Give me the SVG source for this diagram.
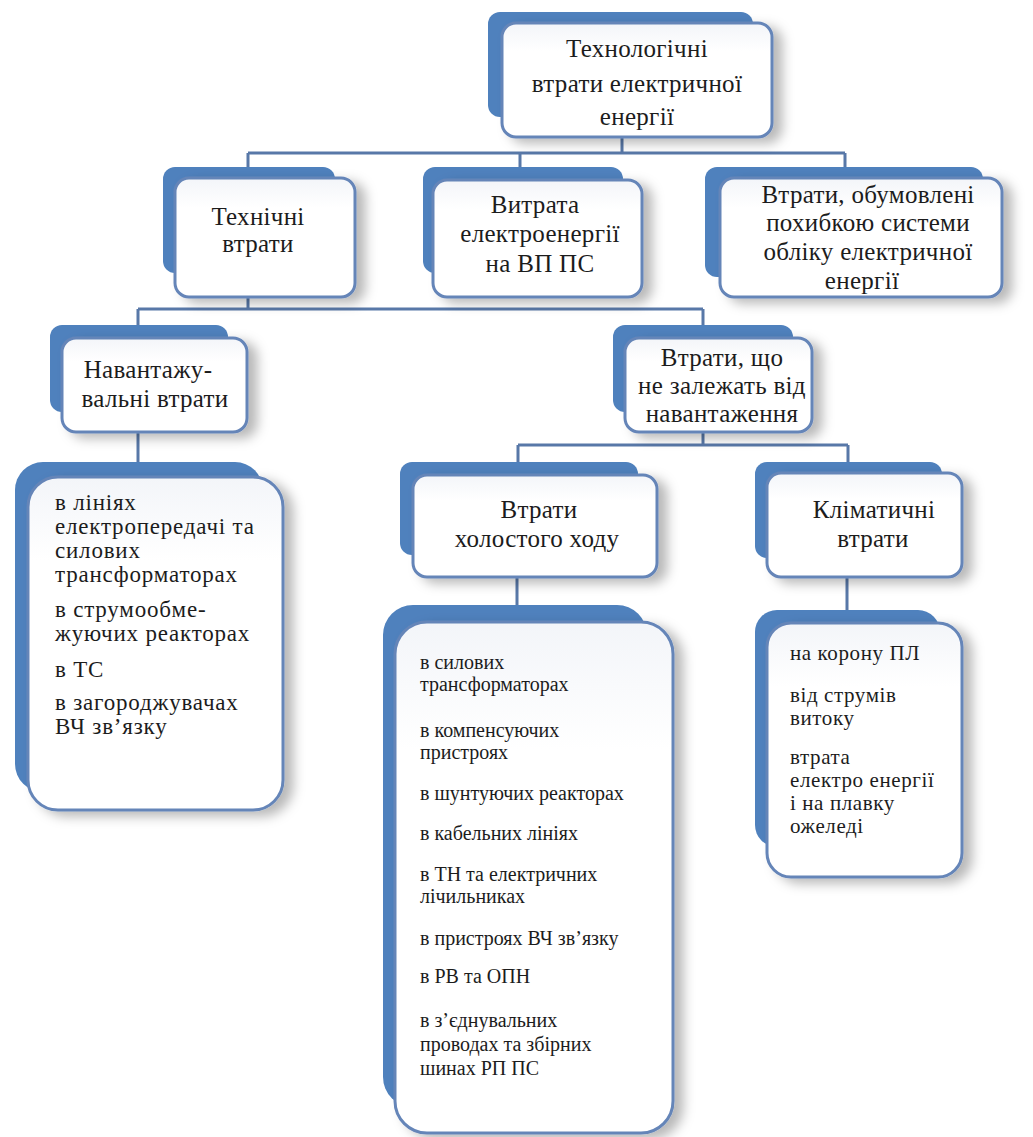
<svg xmlns="http://www.w3.org/2000/svg" width="1033" height="1137" viewBox="0 0 1033 1137">
<defs>
<filter id="sh" x="-20%" y="-20%" width="150%" height="150%">
<feDropShadow dx="9" dy="5" stdDeviation="6" flood-color="#000" flood-opacity="0.28"/>
</filter>
<linearGradient id="wg" x1="0" y1="0" x2="0" y2="1">
<stop offset="0" stop-color="#f3f5f9"/>
<stop offset="0.25" stop-color="#ffffff"/>
<stop offset="1" stop-color="#ffffff"/>
</linearGradient>
</defs>
<style>
.back{fill:#4f81bd;}
.front{fill:url(#wg);stroke:#6585b8;stroke-width:3;filter:url(#sh);}
.conn{fill:none;stroke:#5878a8;stroke-width:3;}
text{font-family:'Liberation Serif','DejaVu Serif',serif;}
.nt{font-size:25px;fill:#1c1c1c;text-anchor:middle;letter-spacing:0.3px;}
.lt{fill:#1c1c1c;}
.l1{font-size:23px;letter-spacing:0.8px;}
.l2{font-size:20px;}
.l3{font-size:21px;letter-spacing:0.6px;}
</style>
<rect width="1033" height="1137" fill="#ffffff"/>
<g id="connectors">
<path class="conn" d="M622,137 V153 M248,153 H845 M248,153 V167 M520,153 V167 M845,153 V167"/>
<path class="conn" d="M248,297 V309 M138,309 H703 M138,309 V325 M703,309 V325"/>
<path class="conn" d="M138,432 V462"/>
<path class="conn" d="M703,432 V445 M518,445 H848 M518,445 V462 M848,445 V462"/>
<path class="conn" d="M517,577 V605 M847,577 V610"/>
</g>
<g id="node-top">
<rect class="back" x="488" y="12" width="265" height="105" rx="12"/>
<rect class="front" x="502" y="23" width="270" height="114" rx="14"/>
<text class="nt" x="637" y="57">Технологічні</text>
<text class="nt" x="637" y="92">втрати електричної</text>
<text class="nt" x="637" y="125">енергії</text>
</g>
<g id="node-tech">
<rect class="back" x="163" y="167" width="172" height="106" rx="12"/>
<rect class="front" x="175" y="178" width="180" height="119" rx="14"/>
<text class="nt" x="258" y="225">Технічні</text>
<text class="nt" x="258" y="252">втрати</text>
</g>
<g id="node-vp">
<rect class="back" x="423" y="167" width="200" height="106" rx="12"/>
<rect class="front" x="433" y="180" width="209" height="117" rx="14"/>
<text class="nt" x="535" y="213">Витрата</text>
<text class="nt" x="540" y="242">електроенергії</text>
<text class="nt" x="540" y="272">на ВП ПС</text>
</g>
<g id="node-meter">
<rect class="back" x="705" y="167" width="278" height="110" rx="12"/>
<rect class="front" x="720" y="178" width="282" height="119" rx="14"/>
<text class="nt" x="868" y="203">Втрати, обумовлені</text>
<text class="nt" x="868" y="231">похибкою системи</text>
<text class="nt" x="868" y="260">обліку електричної</text>
<text class="nt" x="862" y="289">енергії</text>
</g>
<g id="node-load">
<rect class="back" x="50" y="325" width="178" height="87" rx="12"/>
<rect class="front" x="62" y="338" width="185" height="94" rx="14"/>
<text class="nt" x="148" y="378">Навантажу-</text>
<text class="nt" x="155" y="407">вальні втрати</text>
</g>
<g id="node-noload">
<rect class="back" x="613" y="325" width="180" height="87" rx="12"/>
<rect class="front" x="625" y="338" width="187" height="94" rx="14"/>
<text class="nt" x="722" y="366">Втрати, що</text>
<text class="nt" x="722" y="394">не залежать від</text>
<text class="nt" x="722" y="422">навантаження</text>
</g>
<g id="node-idle">
<rect class="back" x="400" y="462" width="238" height="93" rx="12"/>
<rect class="front" x="413" y="475" width="244" height="102" rx="14"/>
<text class="nt" x="539" y="518">Втрати</text>
<text class="nt" x="537" y="547">холостого ходу</text>
</g>
<g id="node-climate">
<rect class="back" x="755" y="462" width="187" height="96" rx="12"/>
<rect class="front" x="767" y="473" width="195" height="104" rx="14"/>
<text class="nt" x="874" y="518">Кліматичні</text>
<text class="nt" x="873" y="547">втрати</text>
</g>
<g id="leaf-load">
<rect class="back" x="15" y="462" width="248" height="330" rx="28"/>
<rect class="front" x="28" y="477" width="255" height="333" rx="30"/>
<text class="lt l1" x="55" y="510">в лініях</text>
<text class="lt l1" x="55" y="534">електропередачі та</text>
<text class="lt l1" x="55" y="558">силових</text>
<text class="lt l1" x="55" y="582">трансформаторах</text>
<text class="lt l1" x="55" y="617">в струмообме-</text>
<text class="lt l1" x="55" y="641">жуючих реакторах</text>
<text class="lt l1" x="55" y="677">в ТС</text>
<text class="lt l1" x="55" y="710">в загороджувачах</text>
<text class="lt l1" x="55" y="734">ВЧ зв’язку</text>
</g>
<g id="leaf-idle">
<rect class="back" x="383" y="605" width="264" height="502" rx="30"/>
<rect class="front" x="395" y="622" width="278" height="511" rx="32"/>
<text class="lt l2" x="420" y="669">в силових</text>
<text class="lt l2" x="420" y="691">трансформаторах</text>
<text class="lt l2" x="420" y="737">в компенсуючих</text>
<text class="lt l2" x="420" y="759">пристроях</text>
<text class="lt l2" x="420" y="800">в шунтуючих реакторах</text>
<text class="lt l2" x="420" y="840">в кабельних лініях</text>
<text class="lt l2" x="420" y="881">в ТН та електричних</text>
<text class="lt l2" x="420" y="903">лічильниках</text>
<text class="lt l2" x="420" y="945">в пристроях ВЧ зв’язку</text>
<text class="lt l2" x="420" y="983">в РВ та ОПН</text>
<text class="lt l2" x="420" y="1027">в з’єднувальних</text>
<text class="lt l2" x="420" y="1051">проводах та збірних</text>
<text class="lt l2" x="420" y="1075">шинах РП ПС</text>
</g>
<g id="leaf-climate">
<rect class="back" x="755" y="610" width="185" height="237" rx="22"/>
<rect class="front" x="767" y="623" width="195" height="254" rx="24"/>
<text class="lt l3" x="790" y="660">на корону ПЛ</text>
<text class="lt l3" x="790" y="702">від струмів</text>
<text class="lt l3" x="790" y="725">витоку</text>
<text class="lt l3" x="790" y="764">втрата</text>
<text class="lt l3" x="790" y="787">електро енергії</text>
<text class="lt l3" x="790" y="810">і на плавку</text>
<text class="lt l3" x="790" y="833">ожеледі</text>
</g>
</svg>
